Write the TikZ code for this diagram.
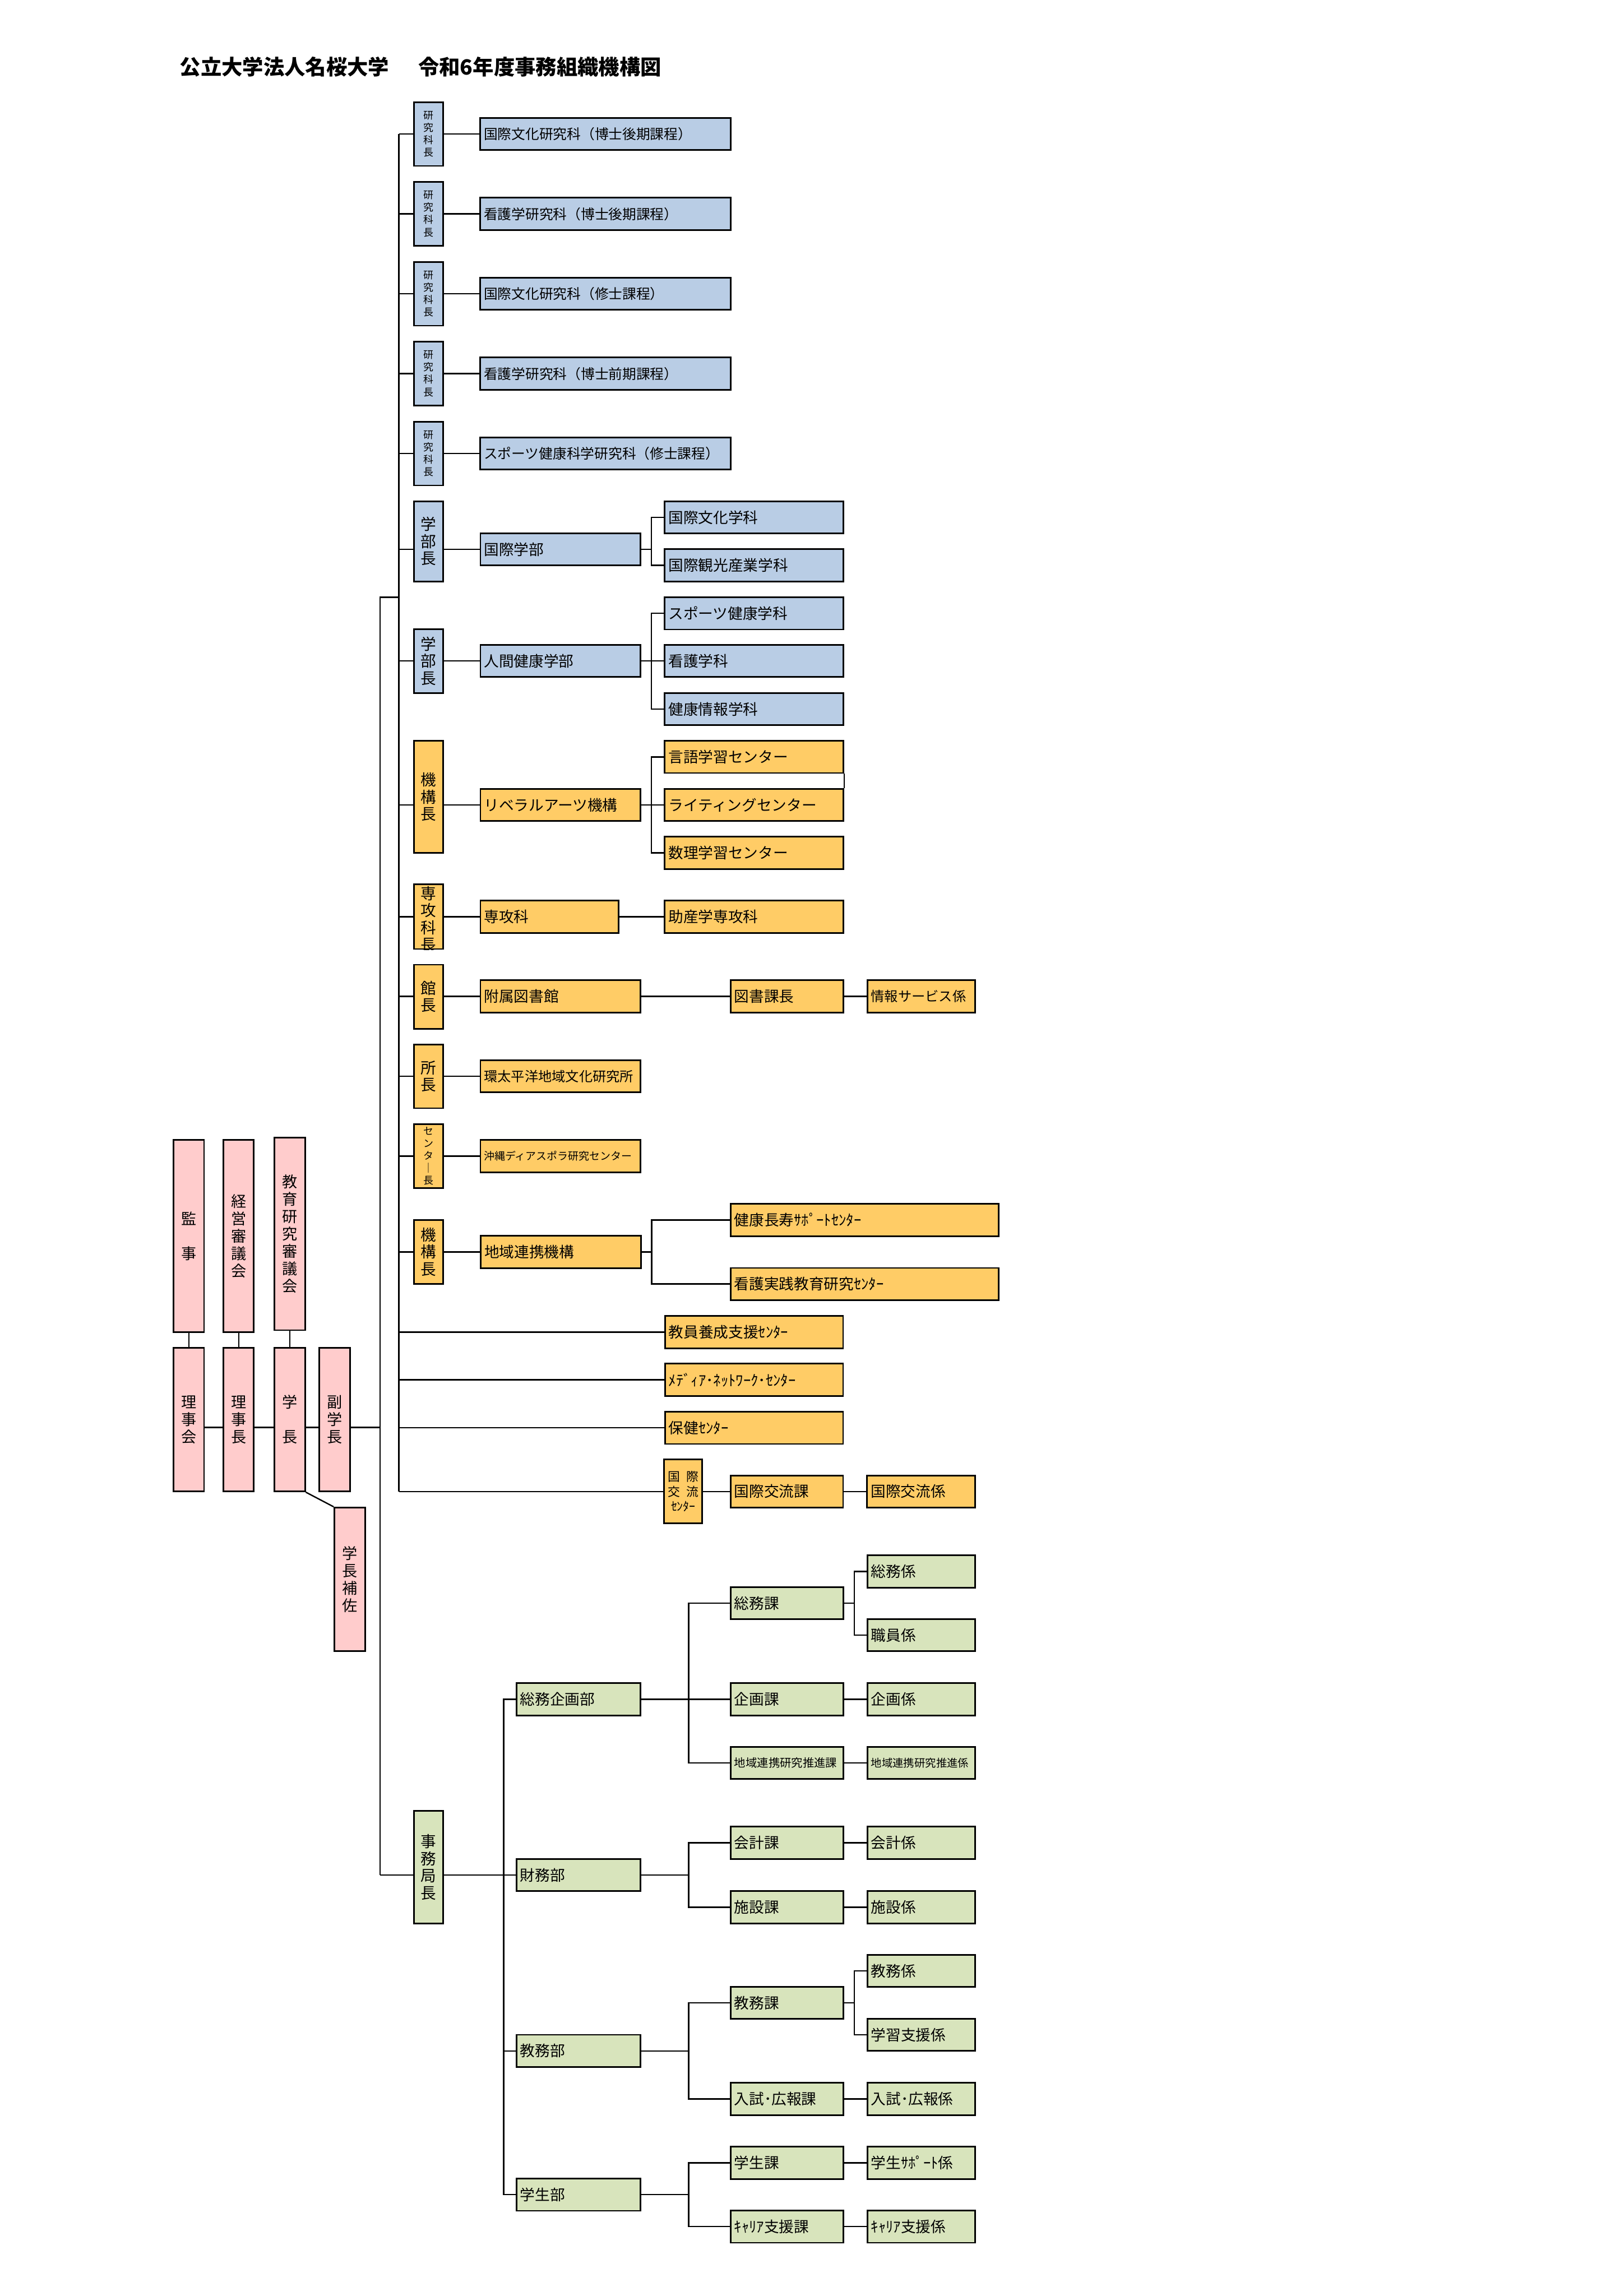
\documentclass[tikz,border=0pt]{standalone}
\usepackage{fontspec}
\setmainfont{Noto Sans CJK JP}
\definecolor{hdblue}{RGB}{185,205,229}
\definecolor{hdorange}{RGB}{255,204,102}
\definecolor{hdpink}{RGB}{255,204,204}
\definecolor{hdgreen}{RGB}{216,228,188}
% one unit of the drawing = one pixel of the sketch
\newlength{\px}\setlength{\px}{0.018936cm}
\newlength{\bxh}\setlength{\bxh}{22\px}
\newlength{\padx}\setlength{\padx}{2.5\px}
\newdimen\boxwd
\newdimen\boxht
\newcommand{\ftitle}{\fontsize{7.7pt}{9pt}\selectfont\bfseries}
\newcommand{\fmain}{\fontsize{5.5pt}{6.6pt}\selectfont}
\newcommand{\fres}{\fontsize{5.1pt}{6.2pt}\selectfont}
\newcommand{\fhead}{\fontsize{5.7pt}{6.3pt}\selectfont}
\newcommand{\fsmall}{\fontsize{3.7pt}{4.55pt}\selectfont}
\newcommand{\fpink}{\fontsize{5.6pt}{6.4pt}\selectfont}
% box with left text: [style]{name}{left x}{centre y}{width}{text}
\newcommand{\tbox}[6][]{%
    \boxwd=#5\px \advance\boxwd by -5\px
    \node[bx, #1, text width=\boxwd] (#2) at (#3,#4) {#6};
}
% box with vertical text: [style]{name}{centre x}{centre y}{width}{height}{text}
\newcommand{\tatebox}[7][]{%
    \boxwd=#5\px \boxht=#6\px
    \node[vb, #1, minimum width=\boxwd, minimum height=\boxht] (#2) at (#3,#4) {#7};
}

\begin{document}
\begin{tikzpicture}[x=0.018936cm, y=-0.018936cm,
    ln/.style={line width=0.5pt},
    bx/.style={draw, line width=0.6pt, anchor=west, minimum height=\bxh, inner xsep=\padx, inner ysep=0pt, align=left, font=\fmain},
    vb/.style={draw, line width=0.6pt, inner sep=0pt, align=center, font=\fhead},
    smallhd/.style={font=\fsmall},
    acad/.style={fill=hdblue},
    inst/.style={fill=hdorange},
    exec/.style={fill=hdpink, font=\fpink},
    admin/.style={fill=hdgreen}]
    \useasboundingbox (0,0) rectangle (1109,1568);

    \node[anchor=west, inner sep=0pt, font=\ftitle] (title) at (122.4,45.8)
        {公立大学法人名桜大学\hspace{1.4em}令和6年度事務組織機構図};

    % ----------------------------------------------------
    % Board, president and councils
    % ----------------------------------------------------
    \tatebox[exec]{kanji}{129}{844.2}{20.7}{131.2}{監\\[6.4pt]事}
    \tatebox[exec]{keiei}{163}{844.2}{20.7}{131.2}{経\\営\\審\\議\\会}
    \tatebox[exec]{kyoken}{197.9}{842.7}{20.8}{131.4}{教\\育\\研\\究\\審\\議\\会}
    \tatebox[exec]{rijikai}{129}{969.5}{20.7}{98}{理\\事\\会}
    \tatebox[exec]{rijicho}{163}{969.5}{20.7}{98}{理\\事\\長}
    \tatebox[exec]{gakucho}{197.9}{969.5}{20.8}{98}{学\\[6.4pt]長}
    \tatebox[exec]{fuku}{228.5}{969.5}{21}{98}{副\\学\\長}
    \tatebox[exec]{hosa}{238.8}{1078.6}{20.9}{98.1}{学\\長\\補\\佐}

    \coordinate (hq) at (259.5,974.8);
    \draw[ln] (kanji) -- (rijikai);
    \draw[ln] (keiei) -- (rijicho);
    \draw[ln] (kyoken) -- (gakucho);
    \draw[ln] (rijikai.east |- hq) -- (rijicho.west |- hq)
              (rijicho.east |- hq) -- (gakucho.west |- hq)
              (gakucho.east |- hq) -- (fuku.west |- hq)
              (fuku.east |- hq) -- (hq);
    \draw[ln] (gakucho.south east) -- (hosa.north west);

    % main trunks
    \coordinate (tAtop) at (272.4,91.5);
    \coordinate (tAbot) at (272.4,1018.6);
    \coordinate (tBtop) at (259.5,407.9);
    \coordinate (tBbot) at (259.5,1280.5);
    \draw[ln] (tAtop) -- (tAbot);
    \draw[ln] (tBtop -| tAtop) -- (tBtop) -- (tBbot);

    % ----------------------------------------------------
    % Graduate schools
    % ----------------------------------------------------
    \tatebox[acad,smallhd]{hk1}{292.7}{91.5}{19.8}{43.6}{研\\究\\科\\長}
    \tatebox[acad,smallhd]{hk2}{292.7}{146.1}{19.8}{43.6}{研\\究\\科\\長}
    \tatebox[acad,smallhd]{hk3}{292.7}{200.6}{19.8}{43.6}{研\\究\\科\\長}
    \tatebox[acad,smallhd]{hk4}{292.7}{255.2}{19.8}{43.6}{研\\究\\科\\長}
    \tatebox[acad,smallhd]{hk5}{292.7}{309.7}{19.8}{43.6}{研\\究\\科\\長}
    \tbox[acad,font=\fres]{k1}{327.4}{91.5}{171.1}{国際文化研究科（博士後期課程）}
    \tbox[acad,font=\fres]{k2}{327.4}{146.1}{171.1}{看護学研究科（博士後期課程）}
    \tbox[acad,font=\fres]{k3}{327.4}{200.6}{171.1}{国際文化研究科（修士課程）}
    \tbox[acad,font=\fres]{k4}{327.4}{255.2}{171.1}{看護学研究科（博士前期課程）}
    \tbox[acad,font=\fres]{k5}{327.4}{309.7}{171.1}{スポーツ健康科学研究科（修士課程）}
    \draw[ln] (tAtop |- k1) -- (hk1.west |- k1) (hk1.east |- k1) -- (k1);
    \draw[ln] (tAtop |- k2) -- (hk2.west |- k2) (hk2.east |- k2) -- (k2);
    \draw[ln] (tAtop |- k3) -- (hk3.west |- k3) (hk3.east |- k3) -- (k3);
    \draw[ln] (tAtop |- k4) -- (hk4.west |- k4) (hk4.east |- k4) -- (k4);
    \draw[ln] (tAtop |- k5) -- (hk5.west |- k5) (hk5.east |- k5) -- (k5);

    % ----------------------------------------------------
    % Faculties
    % ----------------------------------------------------
    \tatebox[acad]{hf1}{292.7}{369.75}{19.8}{54.5}{学\\部\\長}
    \tbox[acad]{f1}{327.5}{375.1}{109.2}{国際学部}
    \tbox[acad]{f1a}{453.4}{353.3}{121.9}{国際文化学科}
    \tbox[acad]{f1b}{453.4}{386}{121.9}{国際観光産業学科}
    \coordinate (b1) at (444.9,375.1);
    \draw[ln] (tAtop |- f1) -- (hf1.west |- f1) (hf1.east |- f1) -- (f1) -- (b1);
    \draw[ln] (f1a.west) -| (b1) |- (f1b.west);

    \tatebox[acad]{hf2}{292.7}{451.4}{19.8}{43.6}{学\\部\\長}
    \tbox[acad]{f2}{327.5}{451.4}{109.2}{人間健康学部}
    \tbox[acad]{f2a}{453.4}{418.9}{121.9}{スポーツ健康学科}
    \tbox[acad]{f2b}{453.4}{451.4}{121.9}{看護学科}
    \tbox[acad]{f2c}{453.4}{484.2}{121.9}{健康情報学科}
    \coordinate (b2) at (444.9,451.4);
    \draw[ln] (tAtop |- f2) -- (hf2.west |- f2) (hf2.east |- f2) -- (f2) -- (f2b);
    \draw[ln] (f2a.west) -| (b2) |- (f2c.west);

    % ----------------------------------------------------
    % Institutes and centres
    % ----------------------------------------------------
    \tatebox[inst]{hf3}{292.7}{544.25}{19.8}{76.7}{機\\構\\長}
    \tbox[inst]{f3}{327.5}{549.7}{109.2}{リベラルアーツ機構}
    \tbox[inst]{f3a}{453.4}{516.9}{121.9}{言語学習センター}
    \tbox[inst]{f3b}{453.4}{549.7}{121.9}{ライティングセンター}
    \tbox[inst]{f3c}{453.4}{582.4}{121.9}{数理学習センター}
    \coordinate (b3) at (444.9,549.7);
    \draw[ln] (tAtop |- f3) -- (hf3.west |- f3) (hf3.east |- f3) -- (f3) -- (f3b);
    \draw[ln] (f3a.west) -| (b3) |- (f3c.west);
    \draw[ln] (f3a.south east) -- (f3b.north east);

    \tatebox[inst]{hf4}{292.7}{626.05}{19.8}{44.1}{}
    \begin{scope}
        \clip (hf4.south west) rectangle (hf4.north east);
        \node[inner sep=0pt, align=center, font=\fhead] (hf4txt) at (292.7,627.6) {専\\攻\\科\\長};
    \end{scope}
    \tbox[inst]{f4}{327.5}{626.1}{94.5}{専攻科}
    \tbox[inst]{f4a}{453.4}{626.1}{121.9}{助産学専攻科}
    \draw[ln] (tAtop |- f4) -- (hf4.west |- f4) (hf4.east |- f4) -- (f4) -- (f4a);

    \tatebox[inst]{hf5}{292.7}{680.65}{19.8}{43.7}{館\\長}
    \tbox[inst]{f5}{327.5}{680.5}{109.2}{附属図書館}
    \tbox[inst]{f5a}{498.4}{680.5}{76.9}{図書課長}
    \tbox[inst,font=\fontsize{5.0pt}{6pt}\selectfont]{f5b}{591.7}{680.5}{73.7}{情報サービス係}
    \draw[ln] (tAtop |- f5) -- (hf5.west |- f5) (hf5.east |- f5) -- (f5) -- (f5a);
    \draw[ln] (f5a) -- (f5b);

    \tatebox[inst]{hf6}{292.7}{735}{19.8}{43.6}{所\\長}
    \tbox[inst,font=\fontsize{5.0pt}{6pt}\selectfont]{f6}{327.5}{735}{109.2}{環太平洋地域文化研究所}
    \draw[ln] (tAtop |- f6) -- (hf6.west |- f6) (hf6.east |- f6) -- (f6);

    \tatebox[inst,smallhd]{hf7}{292.7}{789.45}{19.8}{43.5}{セ\\ン\\タ\\｜\\長}
    \tbox[inst,font=\fontsize{3.9pt}{5pt}\selectfont]{f7}{327.5}{789.6}{109.2}{沖縄ディアスポラ研究センター}
    \draw[ln] (tAtop |- f7) -- (hf7.west |- f7) (hf7.east |- f7) -- (f7);

    \tatebox[inst]{hf8}{292.7}{854.95}{19.8}{43.5}{機\\構\\長}
    \tbox[inst]{f8}{327.8}{855}{109.4}{地域連携機構}
    \tbox[inst]{f8a}{498.3}{833.2}{183.2}{健康長寿ｻﾎﾟｰﾄｾﾝﾀｰ}
    \tbox[inst]{f8b}{498.3}{876.9}{183.2}{看護実践教育研究ｾﾝﾀｰ}
    \coordinate (b8) at (445,855);
    \draw[ln] (tAtop |- f8) -- (hf8.west |- f8) (hf8.east |- f8) -- (f8) -- (b8);
    \draw[ln] (f8a.west) -| (b8) |- (f8b.west);

    \tbox[inst]{c1}{453.6}{909.7}{121.6}{教員養成支援ｾﾝﾀｰ}
    \tbox[inst]{c2}{453.6}{942.3}{121.6}{ﾒﾃﾞｨｱ･ﾈｯﾄﾜｰｸ･ｾﾝﾀｰ}
    \tbox[inst]{c3}{453.6}{975.1}{121.6}{保健ｾﾝﾀｰ}
    \tatebox[inst,font=\fontsize{4.5pt}{5.45pt}\selectfont]{c4}{466.6}{1018.6}{26}{43.7}{国\enspace 際\\交\enspace 流\\ｾﾝﾀｰ}
    \tbox[inst]{c4a}{498.3}{1018.6}{76.9}{国際交流課}
    \tbox[inst]{c4b}{591.6}{1018.6}{73.8}{国際交流係}
    \draw[ln] (tAtop |- c1) -- (c1);
    \draw[ln] (tAtop |- c2) -- (c2);
    \draw[ln] (tAtop |- c3) -- (c3);
    \draw[ln] (tAbot) -- (c4);
    \draw[ln] (c4) -- (c4a);
    \draw[ln] (c4a) -- (c4b);

    % ----------------------------------------------------
    % Secretariat
    % ----------------------------------------------------
    \tatebox[admin]{jimu}{292.7}{1275.15}{19.8}{76.7}{事\\務\\局\\長}
    \tbox[admin]{d1}{352.1}{1160.5}{84.6}{総務企画部}
    \tbox[admin]{d2}{352.1}{1280.5}{84.6}{財務部}
    \tbox[admin]{d3}{352.1}{1400.6}{84.6}{教務部}
    \tbox[admin]{d4}{352.1}{1498.8}{84.6}{学生部}
    \coordinate (tC) at (343.9,1160.5);
    \draw[ln] (tBbot) -- (jimu.west |- d2) (jimu.east |- d2) -- (d2);
    \draw[ln] (d1.west) -- (tC) -- (tC |- d4) -- (d4.west);
    \draw[ln] (tC |- d3) -- (d3.west);

    % sections
    \tbox[admin]{s1}{498.4}{1094.9}{76.9}{総務課}
    \tbox[admin]{s2}{498.4}{1160.5}{76.9}{企画課}
    \tbox[admin,font=\fontsize{4.2pt}{5pt}\selectfont]{s3}{498.4}{1204}{76.9}{地域連携研究推進課}
    \tbox[admin]{s4}{498.4}{1258.5}{76.9}{会計課}
    \tbox[admin]{s5}{498.4}{1302.5}{76.9}{施設課}
    \tbox[admin]{s6}{498.4}{1367.8}{76.9}{教務課}
    \tbox[admin]{s7}{498.4}{1433.4}{76.9}{入試･広報課}
    \tbox[admin]{s8}{498.4}{1477}{76.9}{学生課}
    \tbox[admin]{s9}{498.4}{1520.6}{76.9}{ｷｬﾘｱ支援課}

    % units
    \tbox[admin]{g1}{591.7}{1073.2}{73.7}{総務係}
    \tbox[admin]{g2}{591.7}{1116.7}{73.7}{職員係}
    \tbox[admin]{g3}{591.7}{1160.5}{73.7}{企画係}
    \tbox[admin,font=\fontsize{4.0pt}{5pt}\selectfont]{g4}{591.7}{1204}{73.7}{地域連携研究推進係}
    \tbox[admin]{g5}{591.7}{1258.5}{73.7}{会計係}
    \tbox[admin]{g6}{591.7}{1302.5}{73.7}{施設係}
    \tbox[admin]{g7}{591.7}{1346}{73.7}{教務係}
    \tbox[admin]{g8}{591.7}{1389.6}{73.7}{学習支援係}
    \tbox[admin]{g9}{591.7}{1433.4}{73.7}{入試･広報係}
    \tbox[admin]{g10}{591.7}{1477}{73.7}{学生ｻﾎﾟｰﾄ係}
    \tbox[admin]{g11}{591.7}{1520.6}{73.7}{ｷｬﾘｱ支援係}

    \coordinate (e1) at (470.3,1160.5);
    \coordinate (e2) at (470.3,1280.5);
    \coordinate (e3) at (470.3,1400.6);
    \coordinate (e4) at (470.3,1498.8);
    \draw[ln] (d1) -- (s2);
    \draw[ln] (s1.west) -| (e1) |- (s3.west);
    \draw[ln] (d2) -- (e2);
    \draw[ln] (s4.west) -| (e2) |- (s5.west);
    \draw[ln] (d3) -- (e3);
    \draw[ln] (s6.west) -| (e3) |- (s7.west);
    \draw[ln] (d4) -- (e4);
    \draw[ln] (s8.west) -| (e4) |- (s9.west);

    \coordinate (q1) at (583.5,1094.9);
    \coordinate (q2) at (583.5,1367.8);
    \draw[ln] (s1) -- (q1);
    \draw[ln] (g1.west) -| (q1) |- (g2.west);
    \draw[ln] (s6) -- (q2);
    \draw[ln] (g7.west) -| (q2) |- (g8.west);
    \draw[ln] (s2) -- (g3);
    \draw[ln] (s3) -- (g4);
    \draw[ln] (s4) -- (g5);
    \draw[ln] (s5) -- (g6);
    \draw[ln] (s7) -- (g9);
    \draw[ln] (s8) -- (g10);
    \draw[ln] (s9) -- (g11);

\end{tikzpicture}
\end{document}
